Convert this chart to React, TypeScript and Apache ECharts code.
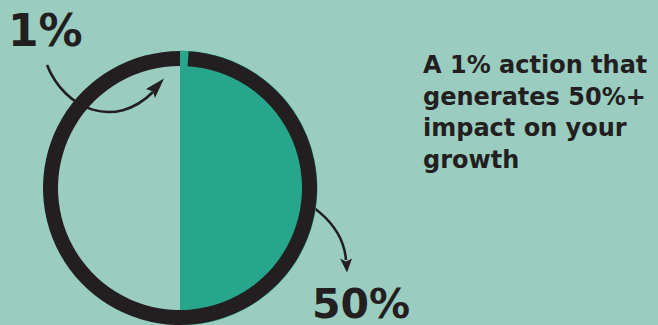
import React, { useEffect, useRef } from "react";
import * as echarts from "echarts";

// Data
const ringLabels = ["1%", "rest"];
const ringValues = [1, 99];
const impactLabels = ["50%", "rest"];
const impactValues = [50, 50];
const calloutLabels = ["1%", "50%"];
const headlineLines = ["A 1% action that", "generates 50%+", "impact on your", "growth"];

const BG = "#9acdc0";
const GREEN = "#27a68b";
const DARK = "#231f20";
const FONT = "'DejaVu Sans', sans-serif";

export default function App() {
  const ref = useRef<HTMLDivElement>(null);

  useEffect(() => {
    document.body.style.margin = "0";
    if (!ref.current) return;
    const chart = echarts.init(ref.current, undefined, { renderer: "svg" });
    const cx = 180;
    const cy = 188;

    const headline = headlineLines.map((line, i) => ({
      type: "text",
      silent: true,
      style: {
        text: line,
        x: 423,
        y: 65.2 + i * 31.6,
        verticalAlign: "middle",
        fontFamily: FONT,
        fontSize: 24,
        fontWeight: "bold",
        lineHeight: 26,
        fill: DARK,
      },
    }));

    chart.setOption({
      animation: false,
      backgroundColor: BG,
      series: [
        {
          type: "pie",
          silent: true,
          center: [cx, cy],
          radius: [0, 137.5],
          startAngle: 90,
          clockwise: true,
          label: { show: false },
          labelLine: { show: false },
          emphasis: { disabled: true },
          data: impactValues.map((v, i) => ({
            name: impactLabels[i],
            value: v,
            itemStyle: { color: i === 0 ? GREEN : "rgba(0,0,0,0)" },
          })),
        },
        {
          type: "pie",
          silent: true,
          center: [cx, cy],
          radius: [122, 137],
          startAngle: 90,
          clockwise: true,
          label: { show: false },
          labelLine: { show: false },
          emphasis: { disabled: true },
          data: ringValues.map((v, i) => ({
            name: ringLabels[i],
            value: v,
            itemStyle: { color: i === 0 ? GREEN : DARK },
          })),
        },
      ],
      graphic: [
        {
          type: "text",
          silent: true,
          style: {
            text: calloutLabels[0],
            x: 8,
            y: 30.8,
            verticalAlign: "middle",
            fontFamily: FONT,
            fontSize: 44,
            fontWeight: "bold",
            lineHeight: 36,
            fill: DARK,
          },
        },
        {
          type: "text",
          silent: true,
          style: {
            text: calloutLabels[1],
            x: 312,
            y: 304,
            verticalAlign: "middle",
            fontFamily: FONT,
            fontSize: 41,
            fontWeight: "bold",
            lineHeight: 30,
            fill: DARK,
          },
        },
        ...headline,
        {
          type: "bezierCurve",
          silent: true,
          shape: { x1: 47, y1: 65, cpx1: 65, cpy1: 110, cpx2: 115, cpy2: 130, x2: 153, y2: 92 },
          style: { stroke: DARK, lineWidth: 2.6, fill: null },
        },
        {
          type: "polygon",
          silent: true,
          shape: { points: [[164, 78.5], [146, 89], [153, 91.5], [155, 98]] },
          style: { fill: DARK },
        },
        {
          type: "bezierCurve",
          silent: true,
          shape: { x1: 274, y1: 191, cpx1: 305, cpy1: 196, cpx2: 343, cpy2: 222, x2: 346, y2: 260 },
          style: { stroke: DARK, lineWidth: 2.6, fill: null },
        },
        {
          type: "polygon",
          silent: true,
          shape: { points: [[347, 272.5], [340, 258.5], [346, 261.5], [352, 258.5]] },
          style: { fill: DARK },
        },
      ],
    });
    return () => chart.dispose();
  }, []);

  return <div ref={ref} style={{ width: 658, height: 325 }} />;
}
